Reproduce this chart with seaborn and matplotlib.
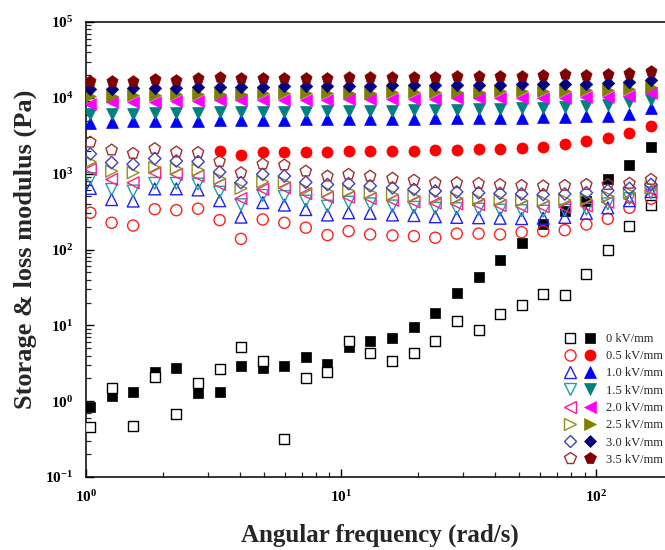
import numpy as np
import pandas as pd
import matplotlib
matplotlib.use("Agg")
import matplotlib.pyplot as plt
import seaborn as sns
from matplotlib.lines import Line2D
from matplotlib.legend_handler import HandlerTuple
from matplotlib.ticker import LogLocator, FixedLocator, FuncFormatter, NullFormatter
from matplotlib.font_manager import FontProperties

# Angular frequency sweep (rad/s)
freq = [1.04, 1.26, 1.53, 1.86, 2.26, 2.75, 3.34, 4.05, 4.93, 5.99, 7.27, 8.84,
        10.7, 13.0, 15.9, 19.3, 23.4, 28.4, 34.6, 42.0, 51.0, 62.0, 75.3, 91.5,
        111.0, 135.0, 164.0]

field_labels = ["0 kV/mm", "0.5 kV/mm", "1.0 kV/mm", "1.5 kV/mm",
                "2.0 kV/mm", "2.5 kV/mm", "3.0 kV/mm", "3.5 kV/mm"]

nan = np.nan

# Storage modulus G' (Pa)
storage_00 = [0.85, 1.18, 1.34, 2.39, 2.73, 1.28, 1.34, 2.87, 2.73, 2.87, 3.82, 3.11,
              5.2, 6.27, 6.81, 9.4, 14.5, 26.8, 43.6, 73.8, 122, 215, 320, 435,
              850, 1320, 2280]
storage_05 = [nan, nan, nan, nan, nan, nan, 1990, 1760, 1950, 1930, 1940, 1950,
              1990, 1990, 2000, 2000, 2030, 2050, 2090, 2140, 2200, 2280, 2440, 2700,
              2990, 3410, 4270]
storage_10 = [4600, 4800, 4900, 4900, 4950, 5000, 5050, 5050, 5100, 5150, 5200, 5200,
              5250, 5250, 5300, 5300, 5350, 5400, 5450, 5500, 5500, 5550, 5600, 5700,
              5800, 6100, 7400]
storage_15 = [6100, 6200, 6200, 6300, 6300, 6400, 6500, 6500, 6600, 6600, 6600, 6700,
              6700, 6800, 6800, 6900, 6900, 7000, 7100, 7200, 7300, 7400, 7500, 7700,
              8000, 8700, 9500]
storage_20 = [8300, 8700, 8800, 8900, 9000, 9100, 9300, 9300, 9400, 9400, 9500, 9500,
              9600, 9600, 9600, 9700, 9700, 9800, 9900, 9900, 10000, 10000, 10100, 10200,
              10400, 10700, 11700]
storage_25 = [10600, 10500, 10900, 11000, 11100, 11200, 11400, 11400, 11500, 11500, 11600, 11600,
              11700, 11700, 11800, 11800, 11900, 11900, 12100, 12200, 12300, 12300, 12400, 12500,
              12700, 13100, 13700]
storage_30 = [13000, 13200, 13300, 13500, 13600, 13800, 14100, 14000, 14100, 14200, 14300, 14300,
              14500, 14500, 14600, 14600, 14700, 14800, 14900, 14900, 15000, 15100, 15300, 15400,
              15700, 16200, 17300]
storage_35 = [16700, 16500, 16800, 17500, 17400, 18000, 18700, 18300, 18400, 18100, 18400, 18300,
              18800, 18700, 18800, 18900, 19000, 19300, 19600, 19500, 19700, 19800, 20400, 20300,
              20900, 21500, 22700]

# Loss modulus G'' (Pa)
loss_00 = [0.453, 1.51, 0.472, 2.11, 0.673, 1.73, 2.65, 5.11, 3.41, 0.315, 2.01, 2.39,
           6.3, 4.31, 3.41, 4.31, 6.27, 11.5, 8.77, 14.1, 18.5, 26.0, 25.0, 47.0,
           98.0, 204, 385]
loss_05 = [305, 225, 207, 340, 330, 345, 244, 138, 249, 225, 194, 155,
           175, 158, 153, 150, 143, 162, 162, 158, 169, 175, 180, 214,
           254, 355, 468]
loss_10 = [640, 455, 435, 630, 630, 610, 440, 267, 415, 385, 336, 285,
           305, 300, 285, 280, 270, 265, 262, 258, 255, 258, 265, 300,
           355, 440, 580]
loss_15 = [860, 620, 590, 745, 745, 730, 570, 390, 515, 500, 435, 373,
           420, 400, 375, 360, 350, 345, 340, 330, 325, 320, 330, 340,
           400, 470, 560]
loss_20 = [1140, 840, 760, 1030, 980, 930, 720, 470, 620, 650, 545, 490,
           490, 470, 445, 425, 410, 400, 390, 380, 370, 365, 360, 375,
           420, 470, 600]
loss_25 = [1430, 1080, 1030, 1200, 1160, 1120, 860, 640, 780, 760, 620, 580,
           590, 560, 530, 500, 470, 470, 455, 450, 440, 440, 450, 460,
           500, 560, 650]
loss_30 = [1820, 1400, 1330, 1580, 1470, 1440, 1050, 760, 980, 930, 770, 720,
           740, 690, 650, 620, 590, 575, 560, 550, 540, 530, 540, 560,
           600, 640, 720]
loss_35 = [2600, 2050, 1850, 2140, 1930, 1900, 1450, 1030, 1340, 1300, 1080, 930,
           980, 930, 870, 820, 760, 760, 745, 720, 700, 690, 700, 720,
           720, 745, 840]

storage_sets = [storage_00, storage_05, storage_10, storage_15,
                storage_20, storage_25, storage_30, storage_35]
loss_sets = [loss_00, loss_05, loss_10, loss_15,
             loss_20, loss_25, loss_30, loss_35]

# Decade ticks on both axes
x_ticks = [1, 10, 100]
y_ticks = [0.1, 1, 10, 100, 1000, 10000, 100000]

# Symbol styling per field strength
markers = ["s", "o", "^", "v", "<", ">", "D", "p"]
msizes = [7.0, 8.0, 8.5, 8.5, 8.5, 8.5, 6.3, 8.5]
fill_colors = ["#000000", "#FF0000", "#0000FF", "#008080",
               "#FF00FF", "#808000", "#000080", "#800000"]
edge_colors = ["#000000", "#FF2020", "#2020FF", "#20A0A0",
               "#FF2090", "#909020", "#4040C0", "#A03030"]

rows = []
for lab, gs, gl in zip(field_labels, storage_sets, loss_sets):
    for w, a, b in zip(freq, gs, gl):
        rows.append({"field": lab, "omega": w, "modulus": a, "kind": "storage"})
        rows.append({"field": lab, "omega": w, "modulus": b, "kind": "loss"})
df = pd.DataFrame(rows)

sns.set_style("ticks", {"xtick.direction": "in", "ytick.direction": "in"})
plt.rcParams["font.family"] = ["Liberation Serif", "DejaVu Serif"]
plt.rcParams["mathtext.fontset"] = "custom"
plt.rcParams["mathtext.rm"] = "Liberation Serif"
plt.rcParams["mathtext.bf"] = "Liberation Serif:bold"
plt.rcParams["mathtext.it"] = "Liberation Serif:italic"

fig = plt.figure(figsize=(6.65, 5.5), dpi=100)
ax = fig.add_axes([86 / 665, 73 / 550, 587 / 665, 455 / 550])
ax.set_xscale("log")
ax.set_yscale("log")

for i, lab in enumerate(field_labels):
    sub = df[df["field"] == lab]
    st = sub[sub["kind"] == "storage"].dropna()
    ls = sub[sub["kind"] == "loss"].dropna()
    s = msizes[i] ** 2
    sns.scatterplot(data=st, x="omega", y="modulus", marker=markers[i], s=s,
                    color=fill_colors[i], edgecolor=fill_colors[i], linewidth=0.5,
                    ax=ax, legend=False, zorder=3)
    face = "white" if i == 0 else "none"
    sns.scatterplot(data=ls, x="omega", y="modulus", marker=markers[i], s=s,
                    facecolors=face, edgecolors=edge_colors[i], linewidth=1.0,
                    ax=ax, legend=False, zorder=3)

ax.set_xlim(1, 200)
ax.set_ylim(0.1, 1e5)

def pow10(v, pos):
    e = int(round(np.log10(v)))
    return r"$\mathbf{10^{%d}}$" % e

ax.xaxis.set_major_locator(FixedLocator(x_ticks))
ax.yaxis.set_major_locator(FixedLocator(y_ticks))
ax.xaxis.set_minor_locator(LogLocator(base=10, subs=np.arange(2, 10), numticks=20))
ax.yaxis.set_minor_locator(LogLocator(base=10, subs=np.arange(2, 10), numticks=20))
ax.xaxis.set_major_formatter(FuncFormatter(pow10))
ax.yaxis.set_major_formatter(FuncFormatter(pow10))
ax.xaxis.set_minor_formatter(NullFormatter())
ax.yaxis.set_minor_formatter(NullFormatter())

ax.tick_params(which="major", direction="in", length=6, width=1.0, labelsize=11,
               colors="black")
ax.tick_params(which="minor", direction="in", length=3.5, width=0.9)
ax.tick_params(axis="x", which="major", pad=9)
ax.tick_params(axis="y", which="major", pad=9)
ax.tick_params(top=False, right=False, which="both")

for side in ["left", "bottom", "top"]:
    ax.spines[side].set_linewidth(1.1)
    ax.spines[side].set_color("black")
ax.spines["right"].set_visible(False)

ax.set_xlabel("Angular frequency (rad/s)", fontsize=18, fontweight="bold")
ax.set_ylabel("Storage & loss modulus (Pa)", fontsize=19, fontweight="bold")
ax.xaxis.set_label_coords(0.5, -0.103)
ax.yaxis.set_label_coords(-0.083, 0.5)

handles = []
for i in range(len(field_labels)):
    h_open = Line2D([], [], ls="", marker=markers[i], markersize=msizes[i],
                    markerfacecolor="none", markeredgecolor=edge_colors[i],
                    markeredgewidth=1.0)
    h_fill = Line2D([], [], ls="", marker=markers[i], markersize=msizes[i],
                    color=fill_colors[i], markeredgewidth=0.5)
    handles.append((h_open, h_fill))

leg = ax.legend(handles, field_labels,
                handler_map={tuple: HandlerTuple(ndivide=None, pad=0.64)},
                loc="upper left", bbox_to_anchor=(564 / 665, 1 - 333 / 550),
                bbox_transform=fig.transFigure, frameon=False,
                prop=FontProperties(family="Liberation Serif", size=9),
                handlelength=2.56, handletextpad=0.78, labelspacing=0.42,
                borderpad=0, borderaxespad=0)

fig.savefig("out.png", dpi=100)
